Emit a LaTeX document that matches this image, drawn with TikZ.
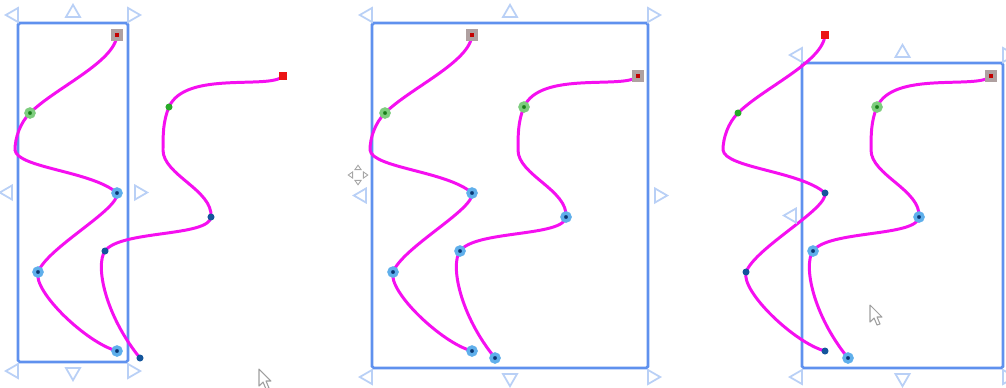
\documentclass[tikz,border=0pt]{standalone}
\usepackage{tikz}
\usetikzlibrary{calc,shapes.geometric}

\definecolor{frameblue}{RGB}{95,145,238}
\definecolor{handleblue}{RGB}{185,208,246}
\definecolor{strandpink}{RGB}{245,15,240}
\definecolor{bluehalo}{RGB}{95,175,235}
\definecolor{bluedark}{RGB}{10,55,115}
\definecolor{bluedot}{RGB}{20,85,155}
\definecolor{greenhalo}{RGB}{125,205,125}
\definecolor{greendark}{RGB}{25,125,25}
\definecolor{greendot}{RGB}{40,170,40}
\definecolor{redhalo}{RGB}{175,160,160}
\definecolor{reddark}{RGB}{195,0,0}
\definecolor{reddot}{RGB}{235,20,20}

\tikzset{
  strand/.style={strandpink, line width=1.7pt},
  selframe/.style={frameblue, line width=1.6pt, rounded corners=1pt},
  handle/.style={isosceles triangle, isosceles triangle apex angle=60,
    draw=handleblue, fill=white, line width=1pt, inner sep=0pt,
    minimum width=6.5pt, minimum height=7pt},
  bluesel/.style={circle, inner sep=0pt, minimum size=4.5pt,
    fill=bluedark, draw=bluehalo, line width=2pt},
  bluept/.style={circle, inner sep=0pt, minimum size=4pt, fill=bluedot},
  greensel/.style={circle, inner sep=0pt, minimum size=4.5pt,
    fill=greendark, draw=greenhalo, line width=2pt},
  greenpt/.style={circle, inner sep=0pt, minimum size=4pt, fill=greendot},
  redsel/.style={rectangle, inner sep=0pt, minimum size=4.5pt,
    fill=reddark, draw=redhalo, line width=1.9pt},
  redpt/.style={rectangle, inner sep=0pt, minimum size=4.5pt, fill=reddot},
  cursor/.style={draw=gray!75, fill=white, line width=0.6pt, line join=round},
  movetip/.style={isosceles triangle, isosceles triangle apex angle=70,
    draw=gray!70, fill=white, line width=0.5pt, inner sep=0pt,
    minimum width=2.5pt, minimum height=2.5pt}
}

% the eight handles round a frame: x0, y0, x1, y1
\newcommand{\selhandles}[4]{%
  \node[handle, shape border rotate=150] (htl) at (#1-4,#2-8) {};
  \node[handle, shape border rotate=90] (htm) at (0.5*#1+0.5*#3,#2-10) {};
  \node[handle, shape border rotate=30] (htr) at (#3+4,#2-8) {};
  \node[handle, shape border rotate=180] (hml) at (#1-10,0.5*#2+0.5*#4) {};
  \node[handle, shape border rotate=0] (hmr) at (#3+11,0.5*#2+0.5*#4) {};
  \node[handle, shape border rotate=210] (hbl) at (#1-4,#4+9) {};
  \node[handle, shape border rotate=270] (hbm) at (0.5*#1+0.5*#3,#4+10) {};
  \node[handle, shape border rotate=330] (hbr) at (#3+4,#4+9) {};
}

% the two strands; #1 and #2 are sel or pt
\newcommand{\strandpair}[2]{%
  % first strand
  \coordinate (a0) at (117,35);
  \coordinate (a1) at (30,113);
  \coordinate (ak) at (15,150);
  \coordinate (a2) at (117,193);
  \coordinate (a3) at (38,272);
  \coordinate (a4) at (117,351);
  % second strand
  \coordinate (b0) at (283,76);
  \coordinate (b1) at (169,107);
  \coordinate (bk) at (163,150);
  \coordinate (b2) at (211,217);
  \coordinate (b3) at (105,251);
  \coordinate (b4) at (140,358);
  \draw[strand] (a0) .. controls +(-2,27) and +(25,-25) .. (a1)
    .. controls +(-10,10) and +(0,-12) .. (ak)
    .. controls +(2,18) and +(-25,-22) .. (a2)
    .. controls +(3,16) and +(10,-25) .. (a3)
    .. controls +(-5,20) and +(-30,-8) .. (a4);
  \draw[strand] (b0) .. controls +(-12,14) and +(16,-37) .. (b1)
    .. controls +(-6,14) and +(0,-15) .. (bk)
    .. controls +(0,25) and +(2,-27) .. (b2)
    .. controls +(-2,20) and +(15,-21) .. (b3)
    .. controls +(-10,14) and +(-35,-43) .. (b4);
  % points
  \node[red#1] (sqa) at (a0) {};
  \node[green#1] (gna) at (a1) {};
  \foreach \p in {a2,a3,a4} \node[blue#1] (pt\p) at (\p) {};
  \node[red#2] (sqb) at (b0) {};
  \node[green#2] (gnb) at (b1) {};
  \foreach \p in {b2,b3,b4} \node[blue#2] (pt\p) at (\p) {};
}

\begin{document}
\begin{tikzpicture}[x=0.02cm, y=-0.02cm]
    \useasboundingbox (0,0) rectangle (1006,387);

    % Narrow frame round the first strand
    \begin{scope}[name prefix=one-]
        \draw[selframe] (18,23) rectangle (128,362);
        \strandpair{sel}{pt}
        \selhandles{18}{23}{128}{362}
    \end{scope}
    \draw[cursor] (259,369) -- (259,386) -- (263,382) -- (266,389)
        -- (269,388) -- (266,381) -- (271,381) -- cycle;

    % Frame round both strands
    \begin{scope}[name prefix=two-]
        \draw[selframe] (372,23) rectangle (648,368);
        \begin{scope}[shift={(355,0)}]
            \strandpair{sel}{sel}
        \end{scope}
        \selhandles{372}{23}{648}{368}
    \end{scope}
    \coordinate (mv) at (358,175);
    \foreach \a/\n in {90/n,270/s,0/e,180/w}
        \node[movetip, shape border rotate=-\a] (mv\n) at ($(mv)+(\a:7)$) {};

    % Frame round the second strand
    \begin{scope}[name prefix=three-]
        \draw[selframe] (802,63) rectangle (1003,368);
        \begin{scope}[shift={(708,0)}]
            \strandpair{pt}{sel}
        \end{scope}
        \selhandles{802}{63}{1003}{368}
    \end{scope}
    \draw[cursor] (870,305) -- (870,322) -- (874,318) -- (877,325)
        -- (880,324) -- (877,317) -- (882,317) -- cycle;
\end{tikzpicture}
\end{document}
